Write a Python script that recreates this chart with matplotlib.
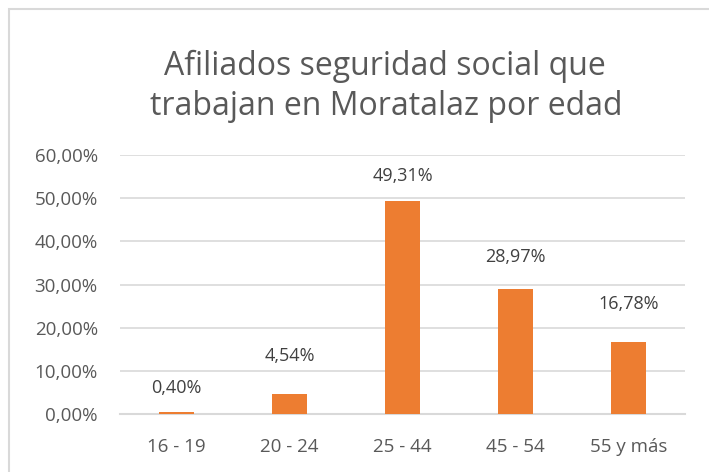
import matplotlib
matplotlib.use("Agg")
from matplotlib import pyplot as plt
from matplotlib.patches import Rectangle

categories = ["16 - 19", "20 - 24", "25 - 44", "45 - 54", "55 y más"]
values = [0.40, 4.54, 49.31, 28.97, 16.78]
labels = ["0,40%", "4,54%", "49,31%", "28,97%", "16,78%"]
yticks = [0, 10, 20, 30, 40, 50, 60]
ytick_labels = ["0,00%", "10,00%", "20,00%", "30,00%", "40,00%", "50,00%", "60,00%"]

# label gap above each bar (pixels), the labels were not all at the same height
label_gap = [24, 38, 25, 32, 38]

plt.rcParams["font.family"] = ["Open Sans", "DejaVu Sans"]

fig = plt.figure(figsize=(7.09, 4.72), dpi=100)
ax = fig.add_axes([120/709, 1 - 414/472, 565/709, 259/472])

x = range(len(categories))
ax.bar(x, values, width=0.31, color="#ED7D31", zorder=3)
for i, v in enumerate(values):
        ax.annotate(labels[i], (i, v), xytext=(0, label_gap[i]), textcoords="offset pixels",
                    ha="center", va="center", fontsize=13, color="#404040")

ax.set_xlim(-0.5, len(categories) - 0.5)
ax.set_ylim(0, 60)
ax.set_yticks(yticks)
ax.set_yticklabels(ytick_labels)
ax.set_xticks(list(x))
ax.set_xticklabels(categories)
ax.tick_params(axis="both", length=0, labelsize=13.5, labelcolor="#595959")
ax.tick_params(axis="y", pad=16)
ax.tick_params(axis="x", pad=17)
ax.grid(axis="y", color="#d9d9d9", linewidth=1.2, zorder=0)
for s in ["top", "right", "left"]:
        ax.spines[s].set_visible(False)
ax.spines["bottom"].set_color("#d9d9d9")
ax.spines["bottom"].set_linewidth(1.5)

fig.text(385/709, 1 - 75/472, "Afiliados seguridad social que", ha="center", va="baseline",
         fontsize=23, color="#595959")
fig.text(386/709, 1 - 115/472, "trabajan en Moratalaz por edad", ha="center", va="baseline",
         fontsize=23, color="#595959")

# chart border, only top and left are inside the picture
fig.patches.append(Rectangle((8.5/709, -0.1), 1.2, 1 - 9/472 + 0.1, transform=fig.transFigure,
                             fill=False, edgecolor="#d9d9d9", linewidth=1.5))

plt.savefig("out.png", dpi=100)
